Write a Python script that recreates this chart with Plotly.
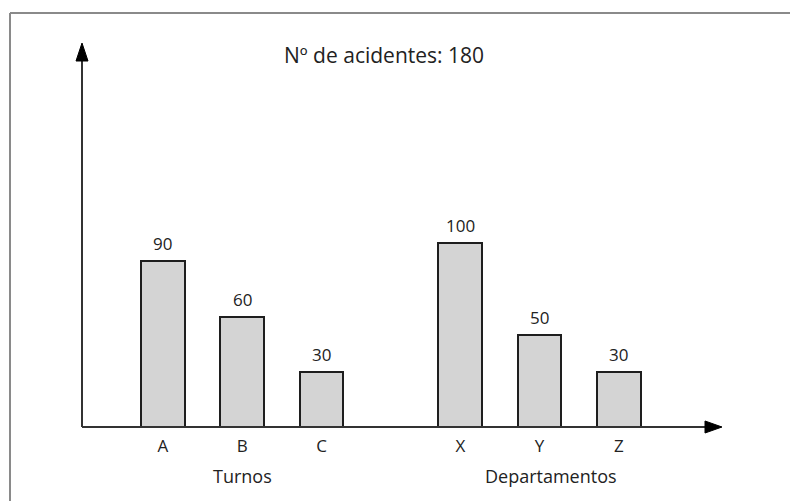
import plotly.graph_objects as go

# Accident counts by shift and by department
turnos = ["A", "B", "C"]
turnos_vals = [90, 60, 30]
departamentos = ["X", "Y", "Z"]
departamentos_vals = [100, 50, 30]
total_label = "Nº de acidentes: 180"
group_titles = ["Turnos", "Departamentos"]

# horizontal layout: bars one unit apart, second group shifted right
group_offsets = [0.0, 3.75]
groups = [(turnos, turnos_vals), (departamentos, departamentos_vals)]

xs, ys, labels = [], [], []
for (cats, vals), off in zip(groups, group_offsets):
    for i, (c, v) in enumerate(zip(cats, vals)):
        xs.append(off + i)
        ys.append(v)
        labels.append(c)

FONT = "Open Sans"
INK = "#222222"

fig = go.Figure()
fig.add_trace(go.Bar(
    x=xs, y=ys, width=0.55,
    marker=dict(color="#d4d4d4", line=dict(color="#1e1e1e", width=2)),
    hoverinfo="skip",
))

XMIN, XMAX = -1.02, 7.05
YMAX = 208

annotations = []
# value labels above each bar
for x, v in zip(xs, ys):
    annotations.append(dict(
        x=x, y=v, xref="x", yref="y", text=str(v), showarrow=False,
        font=dict(family=FONT, size=17, color=INK),
        xanchor="center", yanchor="bottom", yshift=4,
    ))
# group titles under the middle bar of each group
for (cats, _), off, title in zip(groups, group_offsets, group_titles):
    mid = off + (len(cats) - 1) / 2
    annotations.append(dict(
        x=mid + (0.15 if title == "Departamentos" else 0), y=-0.128,
        xref="x", yref="paper", text=title, showarrow=False,
        font=dict(family=FONT, size=18, color=INK),
        xanchor="center", yanchor="middle",
    ))
annotations.append(dict(
    x=(384 - 82) / 640, y=(427 - 55) / 383, xref="paper", yref="paper",
    text=total_label, showarrow=False,
    font=dict(family=FONT, size=21, color=INK),
    xanchor="center", yanchor="middle",
))

AX = "#333333"
shapes = [
    # outer frame (top and left edges)
    dict(type="line", xref="paper", yref="paper",
         x0=(10 - 82) / 640, y0=(427 - 520) / 383,
         x1=(10 - 82) / 640, y1=(427 - 13) / 383,
         line=dict(color="#8a8a8a", width=2)),
    dict(type="line", xref="paper", yref="paper",
         x0=(10 - 82) / 640, y0=(427 - 13) / 383,
         x1=(800 - 82) / 640, y1=(427 - 13) / 383,
         line=dict(color="#8a8a8a", width=2)),
    # axes
    dict(type="line", xref="paper", yref="paper", x0=0, y0=0, x1=(708 - 82) / 640, y1=0,
         line=dict(color=AX, width=2)),
    dict(type="line", xref="paper", yref="paper", x0=0, y0=0, x1=0, y1=(427 - 58) / 383,
         line=dict(color=AX, width=2)),
    # arrowheads
    dict(type="path", xref="paper", yref="paper",
         path="M {a},{b} L {c},{d} L {a},{e} Z".format(
             a=(705 - 82) / 640, b=6 / 383, c=(722 - 82) / 640, d=0, e=-6 / 383),
         fillcolor="#000000", line=dict(color="#000000", width=1)),
    dict(type="path", xref="paper", yref="paper",
         path="M {a},{b} L {c},{d} L {e},{b} Z".format(
             a=-6 / 640, b=(427 - 61) / 383, c=0, d=(427 - 43) / 383, e=6 / 640),
         fillcolor="#000000", line=dict(color="#000000", width=1)),
]

fig.update_layout(
    width=790, height=501,
    margin=dict(l=82, r=68, t=44, b=74),
    paper_bgcolor="white", plot_bgcolor="white",
    showlegend=False, bargap=0,
    xaxis=dict(range=[XMIN, XMAX], tickvals=xs, ticktext=labels,
               showgrid=False, zeroline=False, showline=False, ticks="",
               ticklabelstandoff=7,
               tickfont=dict(family=FONT, size=17, color=INK), fixedrange=True),
    yaxis=dict(range=[0, YMAX], showgrid=False, zeroline=False, showline=False,
               showticklabels=False, ticks="", fixedrange=True),
    annotations=annotations, shapes=shapes,
)

fig.write_html("out.html")
